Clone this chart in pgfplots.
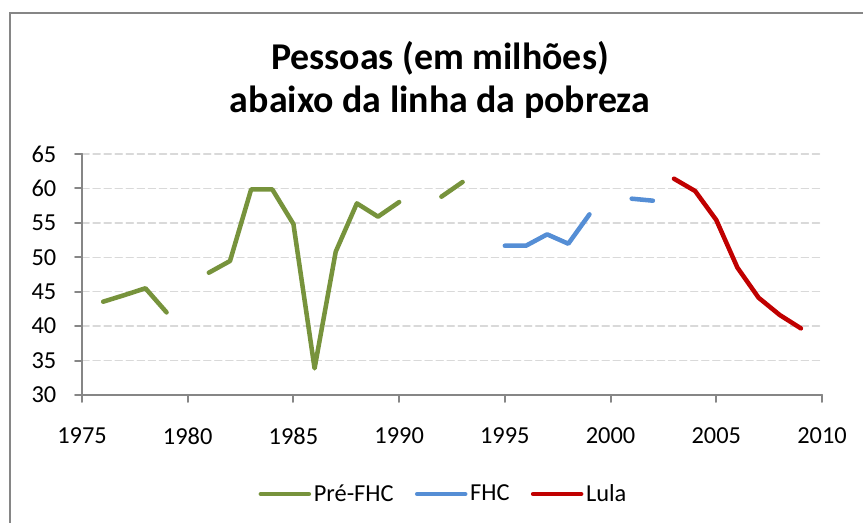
\documentclass[border=0pt]{standalone}
\usepackage{fontspec}
\setmainfont{Carlito}
\usepackage{pgfplots}
\pgfplotsset{compat=1.18}
\definecolor{gpre}{RGB}{119,147,60}
\definecolor{gfhc}{RGB}{85,142,213}
\definecolor{glula}{RGB}{192,0,0}
\definecolor{axgray}{RGB}{134,134,134}
\definecolor{gridgray}{RGB}{217,217,217}
\begin{document}
\begin{tikzpicture}
\useasboundingbox (-61.5pt,-96pt) rectangle (585.75pt,296.25pt);
\draw[axgray, line width=1.5pt] (-54pt,-110pt) -- (-54pt,286.5pt) -- (600pt,286.5pt);
\node[anchor=base, inner sep=0pt, font=\bfseries\fontsize{28.4}{34}\selectfont] at (268.5pt,243.75pt) {Pessoas (em milhões)};
\node[anchor=base, inner sep=0pt, font=\bfseries\fontsize{28.4}{34}\selectfont] at (268.5pt,211.5pt) {abaixo da linha da pobreza};
\begin{axis}[
  at={(0pt,0pt)}, anchor=south west,
  scale only axis, width=555pt, height=180.75pt,
  xmin=1975, xmax=2010, ymin=30, ymax=65,
  xtick={1975,1980,...,2010}, ytick={30,35,...,65},
  axis x line*=bottom, axis y line*=left,
  axis line style={axgray, line width=1.5pt},
  tick style={axgray, line width=1.5pt},
  tick align=outside, major tick length=5.25pt,
  ymajorgrids,
  grid style={gridgray, line width=1.1pt, dash pattern=on 5.3pt off 3pt},
  ticklabel style={font=\fontsize{18.3}{20}\selectfont},
  /pgf/number format/assume math mode=true,
  x tick label style={/pgf/number format/1000 sep={}, yshift=-16pt},
  y tick label style={xshift=-10.5pt},
  unbounded coords=jump,
  line join=round, line cap=round,
  legend columns=3,
  legend style={draw=none, fill=none, font=\fontsize{18.3}{20}\selectfont,
    at={(0.489,-0.411)}, anchor=center,
    /tikz/every even column/.append style={column sep=14pt}},
  legend image code/.code={\draw[#1, line cap=round] (0pt,0pt) -- (36pt,0pt);},
]
\addplot[gpre, line width=3.4pt] coordinates {
  (1976,43.55) (1977,44.5) (1978,45.5) (1979,42.0) (1980,nan)
  (1981,47.76) (1982,49.46) (1983,59.86) (1984,59.86) (1985,54.83)
  (1986,33.87) (1987,50.81) (1988,57.83) (1989,55.9) (1990,58.02)
  (1991,nan) (1992,58.8) (1993,60.93)
};
\addlegendentry{Pré-FHC}
\addplot[gfhc, line width=3.4pt] coordinates {
  (1995,51.68) (1996,51.68) (1997,53.33) (1998,51.97) (1999,56.23)
  (2000,nan) (2001,58.51) (2002,58.22)
};
\addlegendentry{FHC}
\addplot[glula, line width=3.4pt] coordinates {
  (2003,61.41) (2004,59.62) (2005,55.41) (2006,48.49) (2007,44.13)
  (2008,41.62) (2009,39.68)
};
\addlegendentry{Lula}
\end{axis}
\end{tikzpicture}
\end{document}
